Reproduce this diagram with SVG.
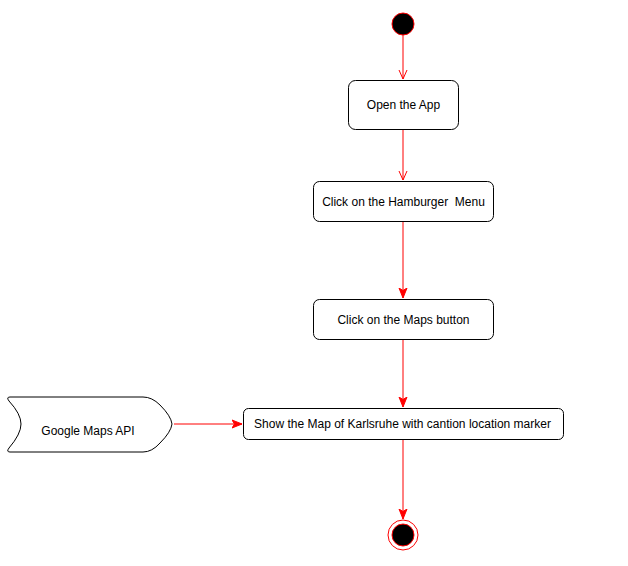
<svg xmlns="http://www.w3.org/2000/svg" width="628" height="566" viewBox="0 0 628 566">
<defs>
<style>
.box{fill:#fff;stroke:#000;stroke-width:1}
.lbl{font-family:"Liberation Sans",Arial,sans-serif;font-size:12px;fill:#000;text-anchor:middle;dominant-baseline:central;white-space:pre}
.edge{stroke:#ff0000;stroke-width:1;fill:none}
</style>
<marker id="open" viewBox="0 0 10 10" refX="10" refY="5" markerWidth="10" markerHeight="10" markerUnits="userSpaceOnUse" orient="auto">
<path d="M1,1 L10,5 L1,9" fill="none" stroke="#ff0000" stroke-width="1"/>
</marker>
<marker id="filled" viewBox="0 0 10 10" refX="10" refY="5" markerWidth="10" markerHeight="10" markerUnits="userSpaceOnUse" orient="auto">
<path d="M0,1 L10,5 L0,9 L2.5,5 Z" fill="#ff0000" stroke="#ff0000" stroke-width="1"/>
</marker>
</defs>
<rect width="628" height="566" fill="#fff"/>
<g id="connectors">
<line class="edge" x1="403" y1="35" x2="403" y2="79" marker-end="url(#open)"/>
<line class="edge" x1="403" y1="129" x2="403" y2="180" marker-end="url(#open)"/>
<line class="edge" x1="403" y1="221" x2="403" y2="298" marker-end="url(#filled)"/>
<line class="edge" x1="403" y1="339" x2="403" y2="407" marker-end="url(#filled)"/>
<line class="edge" x1="174" y1="424" x2="242" y2="424" marker-end="url(#filled)"/>
<line class="edge" x1="403" y1="439" x2="403" y2="519" marker-end="url(#filled)"/>
</g>
<g id="start">
<circle cx="403" cy="24" r="11" fill="#000" stroke="#ff0000" stroke-width="1"/>
</g>
<g id="open-app">
<rect class="box" x="348.5" y="80.5" width="110" height="49" rx="7"/>
<text class="lbl" x="403.5" y="105">Open the App</text>
</g>
<g id="hamburger">
<rect class="box" x="313.5" y="181.5" width="180" height="40" rx="6"/>
<text class="lbl" x="403.5" y="201.5" xml:space="preserve">Click on the Hamburger  Menu</text>
</g>
<g id="maps-button">
<rect class="box" x="313.5" y="299.5" width="180" height="40" rx="6"/>
<text class="lbl" x="403.5" y="319.5">Click on the Maps button</text>
</g>
<g id="show-map">
<rect class="box" x="243.5" y="408.5" width="320" height="31" rx="5"/>
<text class="lbl" x="402.5" y="424">Show the Map of Karlsruhe with cantion location marker</text>
</g>
<g id="google-maps-api">
<path d="M10,397 L143,397 Q152,397 160,405 Q171,416 172,424 Q171,432 160,443 Q152,452 143,452 L10,452 Q6,452 9,448 Q21,434 21,424 Q21,414 9,401 Q6,397 10,397 Z" fill="#fff" stroke="#000" stroke-width="1"/>
<text class="lbl" x="88" y="431">Google Maps API</text>
</g>
<g id="end">
<circle cx="403" cy="535" r="15" fill="#fff" stroke="#ff0000" stroke-width="1"/>
<circle cx="403" cy="535" r="11" fill="#000" stroke="#ff0000" stroke-width="1"/>
</g>
</svg>
